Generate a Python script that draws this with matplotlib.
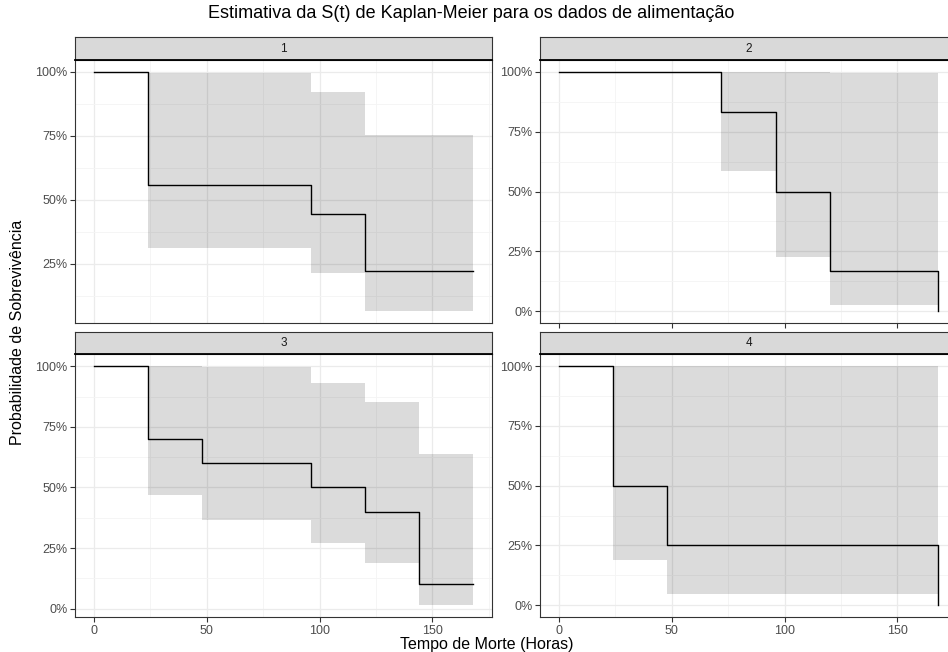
import numpy as np
import matplotlib
matplotlib.use('Agg')
import matplotlib.pyplot as plt
from matplotlib.ticker import FixedLocator, FuncFormatter

plt.rcParams['font.family'] = ['Liberation Sans', 'DejaVu Sans']

# Kaplan-Meier estimates (time in hours, survival as fraction)
t1 = [0, 24, 96, 120, 168]
s1 = [1.0, 0.556, 0.444, 0.222, 0.222]
lo1 = [1.0, 0.31, 0.213, 0.065, 0.065]
up1 = [1.0, 0.996, 0.922, 0.754, 0.754]

t2 = [0, 72, 96, 120, 168]
s2 = [1.0, 0.833, 0.5, 0.167, 0.0]
lo2 = [1.0, 0.584, 0.226, 0.026, 0.026]
up2 = [1.0, 1.0, 1.0, 0.996, 0.996]

t3 = [0, 24, 48, 96, 120, 144, 168]
s3 = [1.0, 0.7, 0.6, 0.5, 0.4, 0.1, 0.1]
lo3 = [1.0, 0.467, 0.365, 0.273, 0.19, 0.015, 0.015]
up3 = [1.0, 1.0, 0.996, 0.929, 0.854, 0.64, 0.64]

t4 = [0, 24, 48, 168]
s4 = [1.0, 0.5, 0.25, 0.0]
lo4 = [1.0, 0.189, 0.046, 0.046]
up4 = [1.0, 1.0, 1.0, 1.0]

groups = ['1', '2', '3', '4']
times = [t1, t2, t3, t4]
survs = [s1, s2, s3, s4]
lowers = [lo1, lo2, lo3, lo4]
uppers = [up1, up2, up3, up4]

W, H = 948, 652
fig = plt.figure(figsize=(W / 100, H / 100), dpi=100)


def px_axes(x0, y0, x1, y1):
    # pixel box (top-left origin) -> figure axes
    return fig.add_axes([x0 / W, 1 - y1 / H, (x1 - x0) / W, (y1 - y0) / H])


cols = [(75, 492), (540, 957)]
rows = [(37, 60, 323), (331.5, 354.3, 617)]
border = '#333333'
pct = FuncFormatter(lambda v, p: f'{v * 100:.0f}%')

for i, g in enumerate(groups):
    r, c = divmod(i, 2)
    x0, x1 = cols[c]
    sy0, py0, py1 = rows[r]

    ax = px_axes(x0, py0, x1, py1)
    t = np.array(times[i], dtype=float)
    s = np.array(survs[i])
    lo = np.array(lowers[i])
    up = np.array(uppers[i])

    ax.fill_between(t, lo, up, step='post', facecolor='black', alpha=0.14,
                    linewidth=0, zorder=2)
    ax.step(t, s, where='post', color='black', linewidth=1.0, zorder=3)

    span = s.max() - min(lo.min(), s.min())
    ymin = min(lo.min(), s.min())
    ax.set_ylim(ymin - 0.05 * span, 1 + 0.05 * span)
    ax.set_xlim(-8.4, 176.4)

    ax.xaxis.set_major_locator(FixedLocator([0, 50, 100, 150]))
    ax.xaxis.set_minor_locator(FixedLocator([25, 75, 125, 175]))
    ax.yaxis.set_major_locator(FixedLocator([0, 0.25, 0.5, 0.75, 1.0]))
    ax.yaxis.set_minor_locator(FixedLocator([0.125, 0.375, 0.625, 0.875]))
    ax.yaxis.set_major_formatter(pct)

    ax.grid(which='major', color='#ebebeb', linewidth=0.9, zorder=0)
    ax.grid(which='minor', color='#f4f4f4', linewidth=0.6, zorder=0)
    ax.set_axisbelow(True)
    for sp in ax.spines.values():
        sp.set_color(border)
        sp.set_linewidth(0.8)

    ax.tick_params(which='minor', length=0)
    ax.tick_params(axis='y', which='major', length=3.5, width=0.8, color=border,
                   labelsize=9, labelcolor='#4d4d4d', pad=2)
    ax.tick_params(axis='x', which='major', length=3.5, width=0.8, color=border,
                   labelsize=9, labelcolor='#4d4d4d', pad=2)
    if i == 0:
        ax.tick_params(axis='x', which='major', length=0, labelbottom=False)
    elif i == 1:
        ax.tick_params(axis='x', which='major', labelbottom=False)

    # facet strip
    sax = px_axes(x0, sy0, x1, py0)
    sax.set_facecolor('#d9d9d9')
    sax.set_xticks([])
    sax.set_yticks([])
    for sp in sax.spines.values():
        sp.set_color(border)
        sp.set_linewidth(0.8)
    sax.spines['bottom'].set_color('black')
    sax.spines['bottom'].set_linewidth(1.3)
    sax.text(0.5, 0.5, g, ha='center', va='center', fontsize=8.5,
             color='#1a1a1a', transform=sax.transAxes)

fig.text(471 / W, 1 - 13 / H, 'Estimativa da S(t) de Kaplan-Meier para os dados de alimentação',
         ha='center', va='center', fontsize=13)
fig.text(487 / W, 1 - 645 / H, 'Tempo de Morte (Horas)', ha='center', va='center', fontsize=11.5)
fig.text(18 / W, 1 - 332 / H, 'Probabilidade de Sobrevivência', ha='center', va='center',
         rotation=90, fontsize=11.5)

fig.savefig('out.png', dpi=100)
